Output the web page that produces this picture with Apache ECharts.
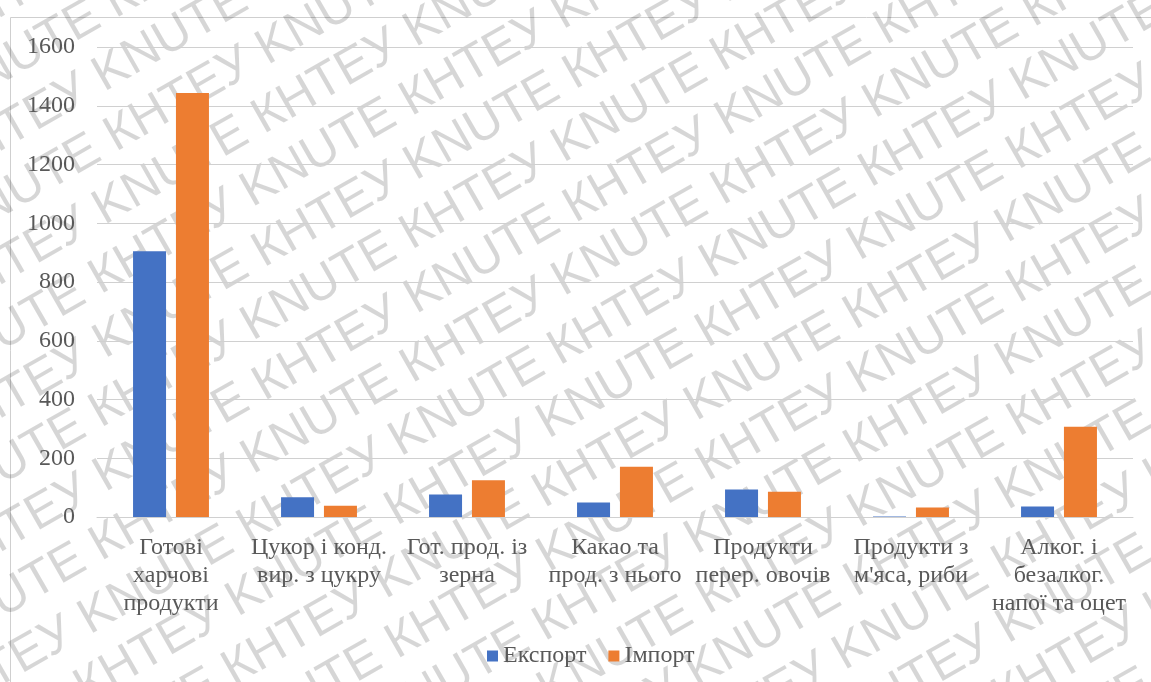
<!DOCTYPE html>
<html>
<head>
<meta charset="utf-8">
<script src="https://cdn.jsdelivr.net/npm/echarts@6/dist/echarts.min.js"></script>
<style>
  html, body { margin: 0; padding: 0; background: #fff; }
  #chart { width: 1151px; height: 682px; }
</style>
</head>
<body>
<div id="chart"></div>
<script>
// Food industry trade by product group
const categories = [
  'Готові\nхарчові\nпродукти',
  'Цукор і конд.\nвир. з цукру',
  'Гот. прод. із\nзерна',
  'Какао та\nпрод. з нього',
  'Продукти\nперер. овочів',
  'Продукти з\nм\'яса, риби',
  'Алког. і\nбезалког.\nнапої та оцет'
];
const exportValues = [905, 67, 77, 49, 94, 2, 36];
const importValues = [1443, 38, 125, 171, 86, 32, 307];
const seriesNames = ['Експорт', 'Імпорт'];
const yMax = 1600;
const yStep = 200;
const watermarkText = 'КНТЕУ KNUTE';

const serif = '"Liberation Serif", "Times New Roman", serif';
const labelColor = '#595959';
const gridColor = '#d0d0d0';

// Diagonal repeated watermark rows drawn over the whole chart
const wmChildren = [];
const rowText = Array(10).fill(watermarkText).join(' ');
for (let i = -14; i <= 14; i++) {
  wmChildren.push({
    type: 'text',
    x: -1100 + ((i * 137) % 340),
    y: i * 58,
    style: {
      text: rowText,
      font: '50px "Liberation Sans", Arial, sans-serif',
      fill: 'rgba(0,0,0,0.16)',
      textVerticalAlign: 'middle'
    },
    silent: true
  });
}

const chart = echarts.init(document.getElementById('chart'), null, { renderer: 'canvas' });
chart.setOption({
  animation: false,
  backgroundColor: '#ffffff',
  color: ['#4472C4', '#ED7D31'],
  grid: { left: 97, right: 18, top: 47, bottom: 165, containLabel: false },
  legend: {
    data: seriesNames,
    left: 482,
    top: 639,
    itemWidth: 11,
    itemHeight: 11,
    itemGap: 22,
    icon: 'rect',
    textStyle: { fontFamily: serif, fontSize: 24, color: labelColor }
  },
  xAxis: {
    type: 'category',
    data: categories,
    axisLine: { lineStyle: { color: gridColor, width: 1 } },
    axisTick: { show: false },
    axisLabel: {
      interval: 0,
      margin: 17,
      fontFamily: serif,
      fontSize: 24,
      lineHeight: 28,
      color: labelColor,
      align: 'center'
    }
  },
  yAxis: {
    type: 'value',
    min: 0,
    max: yMax,
    interval: yStep,
    axisLine: { show: false },
    axisTick: { show: false },
    splitLine: { lineStyle: { color: gridColor, width: 1 } },
    axisLabel: {
      fontFamily: serif,
      fontSize: 24,
      color: labelColor,
      margin: 22,
      formatter: (v) => String(v)
    }
  },
  series: [
    {
      name: seriesNames[0],
      type: 'bar',
      data: exportValues,
      barWidth: 33,
      barGap: '30%'
    },
    {
      name: seriesNames[1],
      type: 'bar',
      data: importValues,
      barWidth: 33,
      barGap: '30%'
    }
  ],
  graphic: [
    {
      type: 'rect',
      shape: { x: 10.5, y: 17.5, width: 1200, height: 700 },
      style: { fill: 'none', stroke: '#cfcfcf', lineWidth: 1 },
      silent: true,
      z: -1
    },
    {
      type: 'group',
      x: 575,
      y: 341,
      rotation: 0.52,
      z: 100,
      silent: true,
      children: wmChildren
    }
  ]
});
</script>
</body>
</html>
